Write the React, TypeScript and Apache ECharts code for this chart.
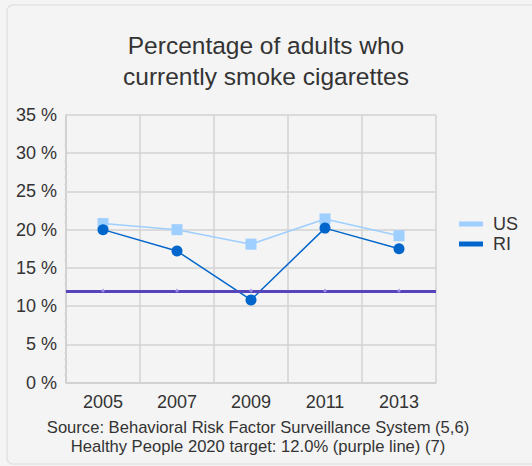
import React, { useEffect, useRef } from "react";
import * as echarts from "echarts";

const years = ["2005", "2007", "2009", "2011", "2013"];
const usValues = [20.8, 20.0, 18.1, 21.4, 19.2];
const riValues = [20.0, 17.2, 10.8, 20.2, 17.5];
const targetValues = [12.0, 12.0, 12.0, 12.0, 12.0];
const titleLines = ["Percentage of adults who", "currently smoke cigarettes"];
const sourceLines = [
  "Source: Behavioral Risk Factor Surveillance System (5,6)",
  "Healthy People 2020 target: 12.0% (purple line) (7)",
];

const FONT = "'Liberation Sans', Arial, Helvetica, sans-serif";

export default function App() {
  const ref = useRef<HTMLDivElement>(null);
  useEffect(() => {
    document.body.style.margin = "0";
    document.body.style.background = "#f4f4f4";
    const chart = echarts.init(ref.current!, undefined, { renderer: "svg" });
    chart.setOption({
      animation: false,
      backgroundColor: "#f4f4f4",
      textStyle: { fontFamily: FONT },
      title: {
        text: titleLines.join("\n"),
        left: "center",
        top: 25,
        textStyle: { fontFamily: FONT, fontSize: 24.5, fontWeight: "normal", color: "#333", lineHeight: 31 },
      },
      legend: {
        orient: "vertical",
        left: 454,
        top: 210,
        itemWidth: 24,
        itemHeight: 5,
        itemGap: 2,
        icon: "rect",
        data: ["US", "RI"],
        textStyle: { fontFamily: FONT, fontSize: 18, color: "#333", padding: [0, 0, 0, 5] },
      },
      grid: { left: 66, right: 96, top: 115, bottom: 83.5, containLabel: false },
      xAxis: {
        type: "category",
        data: years,
        boundaryGap: true,
        axisLine: { show: true, lineStyle: { color: "#cfcfcf", width: 1.5 } },
        axisTick: { show: false },
        splitLine: { show: true, lineStyle: { color: "#d3d3d3", width: 1.5 } },
        axisLabel: { fontFamily: FONT, fontSize: 18, color: "#333", margin: 10 },
      },
      yAxis: {
        type: "value",
        min: 0,
        max: 35,
        interval: 5,
        axisLine: { show: true, lineStyle: { color: "#cfcfcf", width: 1.5 } },
        axisTick: { show: false },
        minorTick: { show: true, splitNumber: 5, length: 2, lineStyle: { color: "#dcdcdc" } },
        splitLine: { show: true, lineStyle: { color: "#d3d3d3", width: 1.5 } },
        axisLabel: { fontFamily: FONT, fontSize: 18, color: "#333", margin: 9, formatter: "{value} %" },
      },
      series: [
        {
          name: "US",
          type: "line",
          data: usValues,
          symbol: "rect",
          symbolSize: 11,
          color: "#9fcfff",
          lineStyle: { width: 1.5, color: "#9fcfff" },
          itemStyle: { color: "#9fcfff" },
          z: 2,
        },
        {
          name: "RI",
          type: "line",
          data: riValues,
          symbol: "circle",
          symbolSize: 11,
          color: "#0066cc",
          lineStyle: { width: 1.5, color: "#0066cc" },
          itemStyle: { color: "#0066cc" },
          z: 3,
        },
        {
          name: "Target",
          type: "line",
          data: targetValues,
          symbol: "diamond",
          symbolSize: 4,
          lineStyle: { width: 0, opacity: 0 },
          itemStyle: { color: "#9a8ce0" },
          z: 5,
          markLine: {
            silent: true,
            symbol: "none",
            label: { show: false },
            lineStyle: { type: "solid", width: 3, color: "#5544bb" },
            data: [{ yAxis: targetValues[0] }],
            z: 4,
          },
        },
      ],
      graphic: [
        {
          type: "rect",
          shape: { x: 7, y: 5, width: 540, height: 459, r: 6 },
          style: { fill: "none", stroke: "#e2e2e2", lineWidth: 1.5 },
          z: -1,
          silent: true,
        },
        {
          type: "text",
          x: 258,
          y: 418,
          style: {
            text: sourceLines.join("\n"),
            fontFamily: FONT,
            fontSize: 16.6,
            lineHeight: 19,
            fill: "#333",
            textAlign: "center",
          },
        },
      ],
    });
    return () => chart.dispose();
  }, []);
  return <div ref={ref} style={{ width: 532, height: 466 }} />;
}
